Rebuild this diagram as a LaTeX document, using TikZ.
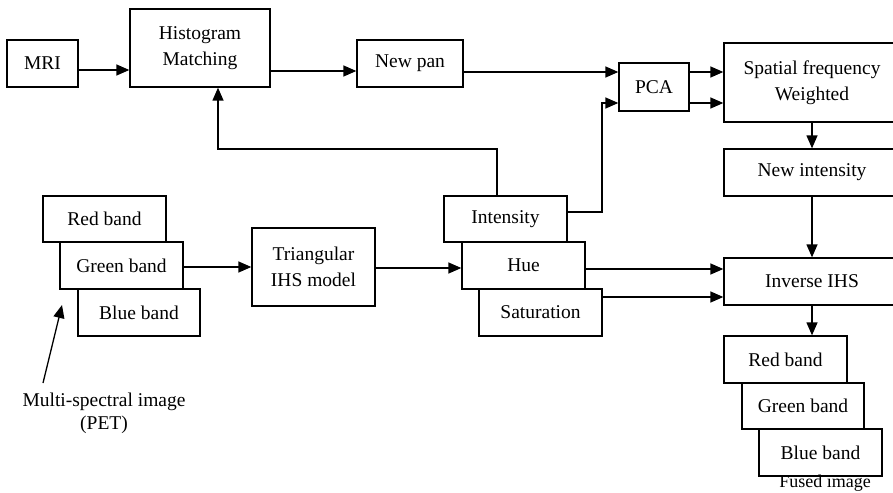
\documentclass[tikz,border=0pt]{standalone}
\usepackage{fontspec}
\setmainfont{Liberation Serif}
\usetikzlibrary{arrows.meta,calc}
\begin{document}
\begin{tikzpicture}[x=1pt,y=-1pt,
  box/.style={draw=black,line width=1.3pt,fill=white,inner sep=0pt,align=center,
    font=\fontsize{19.5}{25.5}\selectfont},
  arr/.style={line width=1.3pt,-{Triangle[length=13pt,width=11pt]}},
  ln/.style={line width=1.3pt}]
\useasboundingbox (0,0) rectangle (893,492);
\clip (0,0) rectangle (893,492);
% top row
\node[box,minimum width=71pt,minimum height=47pt] (mri) at (42.5,63.5) {MRI};
\node[box,minimum width=140pt,minimum height=78pt] (hist) at (200,48) {Histogram\\Matching};
\node[box,minimum width=106pt,minimum height=47pt] (newpan) at (410,63.5) {New pan};
\node[box,minimum width=70pt,minimum height=48pt] (pca) at (654,87) {PCA};
\node[box,minimum width=176pt,minimum height=79pt] (spatial) at (812,82.5) {Spatial frequency\\Weighted};
\node[box,minimum width=176pt,minimum height=47pt] (newint) at (812,172.5) {New intensity};
\node[box,minimum width=176pt,minimum height=47pt] (inv) at (812,281.5) {Inverse IHS};
% IHS components
\node[box,minimum width=123pt,minimum height=46pt] (int) at (505.5,219) {Intensity};
\node[box,minimum width=123pt,minimum height=47pt] (hue) at (523.5,265.5) {Hue};
\node[box,minimum width=123pt,minimum height=47pt] (sat) at (540.5,312.5) {Saturation};
% input bands
\node[box,minimum width=123pt,minimum height=46pt] (red1) at (104.5,219) {Red band};
\node[box,minimum width=123pt,minimum height=47pt] (green1) at (121.5,265.5) {Green band};
\node[box,minimum width=122pt,minimum height=47pt] (blue1) at (139,312.5) {Blue band};
\node[box,minimum width=123pt,minimum height=78pt] (tri) at (313.5,267) {Triangular\\IHS model};
% output bands
\node[box,minimum width=123pt,minimum height=47pt] (red2) at (785.5,359.5) {Red band};
\node[box,minimum width=122pt,minimum height=46pt] (green2) at (803,406) {Green band};
\node[box,minimum width=123pt,minimum height=47pt] (blue2) at (820.5,452.5) {Blue band};
% labels
\node[align=center,font=\fontsize{19.5}{23}\selectfont,inner sep=0pt] (mslabel) at (104,413) {Multi-spectral image\\(PET)};
\node[font=\fontsize{18}{22}\selectfont,inner sep=0pt] (fused) at (825,483) {Fused image};
% helper coordinates
\coordinate (y70) at (0,70);
\coordinate (y71) at (0,71);
\coordinate (y72) at (0,72);
\coordinate (y103) at (0,103);
\coordinate (y212) at (0,212);
\coordinate (y267) at (0,267);
\coordinate (y268) at (0,268);
\coordinate (y269) at (0,269);
\coordinate (y297) at (0,297);
\coordinate (x218) at (218,0);
\coordinate (x497) at (497,0);
\coordinate (x602) at (602,0);
\coordinate (x812) at (812,0);
\coordinate (fb) at (218,149);
\coordinate (ms1) at (43,383);
\coordinate (ms2) at (62,305);
% connectors
\draw[arr] (mri.east |- y70) -- (hist.west |- y70);
\draw[arr] (hist.east |- y71) -- (newpan.west |- y71);
\draw[arr] (newpan.east |- y72) -- (pca.west |- y72);
\draw[arr] (int.east |- y212) -- (x602 |- y212) -- (x602 |- y103) -- (pca.west |- y103);
\draw[arr] (pca.east |- y72) -- (spatial.west |- y72);
\draw[arr] (pca.east |- y103) -- (spatial.west |- y103);
\draw[arr] (spatial.south -| x812) -- (newint.north -| x812);
\draw[arr] (newint.south -| x812) -- (inv.north -| x812);
\draw[arr] (int.north -| x497) |- (fb) -- (hist.south -| x218);
\draw[arr] (green1.east |- y267) -- (tri.west |- y267);
\draw[arr] (tri.east |- y268) -- (hue.west |- y268);
\draw[arr] (hue.east |- y269) -- (inv.west |- y269);
\draw[arr] (sat.east |- y297) -- (inv.west |- y297);
\draw[arr] (inv.south -| x812) -- (red2.north -| x812);
\draw[arr] (ms1) -- (ms2);
\end{tikzpicture}
\end{document}
